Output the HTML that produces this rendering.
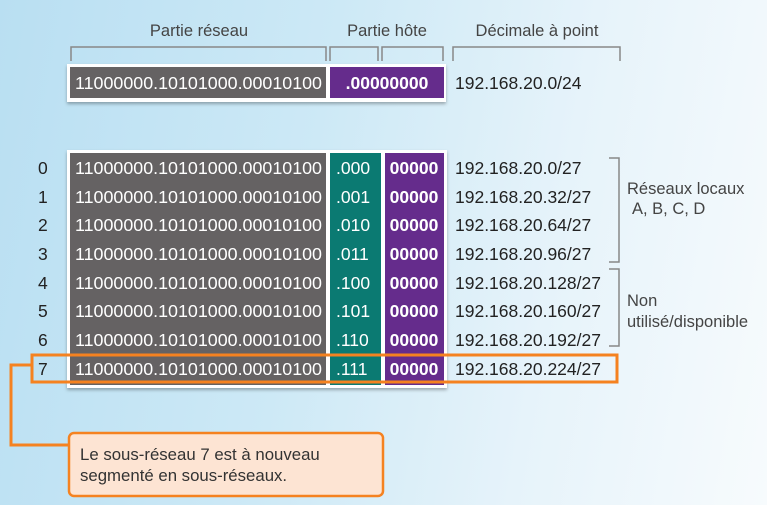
<!DOCTYPE html>
<html><head><meta charset="utf-8"><style>
html,body{margin:0;padding:0}
body{width:767px;height:505px;overflow:hidden;background:linear-gradient(100deg,#b9dff2 0%,#cde9f6 40%,#e6f3fa 70%,#f7fbfd 100%);font-family:"Liberation Sans",sans-serif}
svg{position:absolute;left:0;top:0}
</style></head><body>
<svg width="767" height="505" viewBox="0 0 767 505" font-family="Liberation Sans, sans-serif">
<defs><filter id="sh" x="-5%" y="-5%" width="110%" height="120%"><feDropShadow dx="0" dy="2" stdDeviation="1.5" flood-color="#000" flood-opacity="0.3"/></filter></defs>
<g font-size="16.5" fill="#444">
<text x="199" y="36" text-anchor="middle">Partie réseau</text>
<text x="387" y="36" text-anchor="middle">Partie hôte</text>
<text x="537" y="36" text-anchor="middle">Décimale à point</text>
</g>
<g fill="none" stroke="#888" stroke-width="1.5">
<path d="M71 61V47H326V61"/><path d="M330 61V47H378V61"/><path d="M382 61V47H443V61"/><path d="M453 61V47H620V61"/>
<path d="M609 158H619V262H609"/><path d="M609 269H619V346H609"/>
</g>
<rect x="67" y="64" width="379" height="38" fill="#fff" filter="url(#sh)"/>
<rect x="70" y="67" width="256" height="31" fill="#656263"/>
<rect x="330" y="67" width="114" height="31" fill="#652c8c"/>
<text x="75" y="89" font-size="17.5" fill="#fff" textLength="247" lengthAdjust="spacingAndGlyphs">11000000.10101000.00010100</text>
<text x="387" y="89" font-size="17.5" fill="#fff" font-weight="bold" text-anchor="middle">.00000000</text>
<text x="455" y="89" font-size="17.5" fill="#222">192.168.20.0/24</text>
<rect x="67" y="150" width="380" height="238" fill="#fff" filter="url(#sh)"/>
<rect x="70" y="153" width="256" height="232" fill="#656263"/>
<rect x="330" y="153" width="51" height="232" fill="#0b7a72"/>
<rect x="385" y="153" width="59" height="232" fill="#652c8c"/>
<g font-size="17.5">
<g fill="#222"><text x="38" y="174">0</text><text x="38" y="203">1</text><text x="38" y="231">2</text><text x="38" y="260">3</text><text x="38" y="289">4</text><text x="38" y="317">5</text><text x="38" y="346">6</text><text x="38" y="375">7</text></g>
<g fill="#fff">
<text x="75" y="174" textLength="247" lengthAdjust="spacingAndGlyphs">11000000.10101000.00010100</text><text x="75" y="203" textLength="247" lengthAdjust="spacingAndGlyphs">11000000.10101000.00010100</text><text x="75" y="231" textLength="247" lengthAdjust="spacingAndGlyphs">11000000.10101000.00010100</text><text x="75" y="260" textLength="247" lengthAdjust="spacingAndGlyphs">11000000.10101000.00010100</text><text x="75" y="289" textLength="247" lengthAdjust="spacingAndGlyphs">11000000.10101000.00010100</text><text x="75" y="317" textLength="247" lengthAdjust="spacingAndGlyphs">11000000.10101000.00010100</text><text x="75" y="346" textLength="247" lengthAdjust="spacingAndGlyphs">11000000.10101000.00010100</text><text x="75" y="375" textLength="247" lengthAdjust="spacingAndGlyphs">11000000.10101000.00010100</text>
</g>
<g fill="#fff"><text x="336" y="174">.000</text><text x="336" y="203">.001</text><text x="336" y="231">.010</text><text x="336" y="260">.011</text><text x="336" y="289">.100</text><text x="336" y="317">.101</text><text x="336" y="346">.110</text><text x="336" y="375">.111</text></g>
<g fill="#fff" font-weight="bold" text-anchor="middle"><text x="414" y="174">00000</text><text x="414" y="203">00000</text><text x="414" y="231">00000</text><text x="414" y="260">00000</text><text x="414" y="289">00000</text><text x="414" y="317">00000</text><text x="414" y="346">00000</text><text x="414" y="375">00000</text></g>
<g fill="#222"><text x="455" y="174">192.168.20.0/27</text><text x="455" y="203">192.168.20.32/27</text><text x="455" y="231">192.168.20.64/27</text><text x="455" y="260">192.168.20.96/27</text><text x="455" y="289">192.168.20.128/27</text><text x="455" y="317">192.168.20.160/27</text><text x="455" y="346">192.168.20.192/27</text><text x="455" y="375">192.168.20.224/27</text></g>
</g>
<g font-size="16.5" fill="#444"><text x="627" y="194">Réseaux locaux</text><text x="632" y="214">A, B, C, D</text><text x="627" y="306">Non</text><text x="627" y="327">utilisé/disponible</text></g>
<rect x="32" y="355" width="585" height="27" fill="none" stroke="#f58220" stroke-width="3"/>
<path d="M32 365H11V445H68" fill="none" stroke="#f58220" stroke-width="3"/>
<rect x="69" y="433" width="314" height="63" rx="5" fill="#fde4d3" stroke="#f58220" stroke-width="2.5"/>
<g font-size="16.8" fill="#333"><text x="80" y="460">Le sous-réseau 7 est à nouveau</text><text x="80" y="481">segmenté en sous-réseaux.</text></g>
</svg>
</body></html>
